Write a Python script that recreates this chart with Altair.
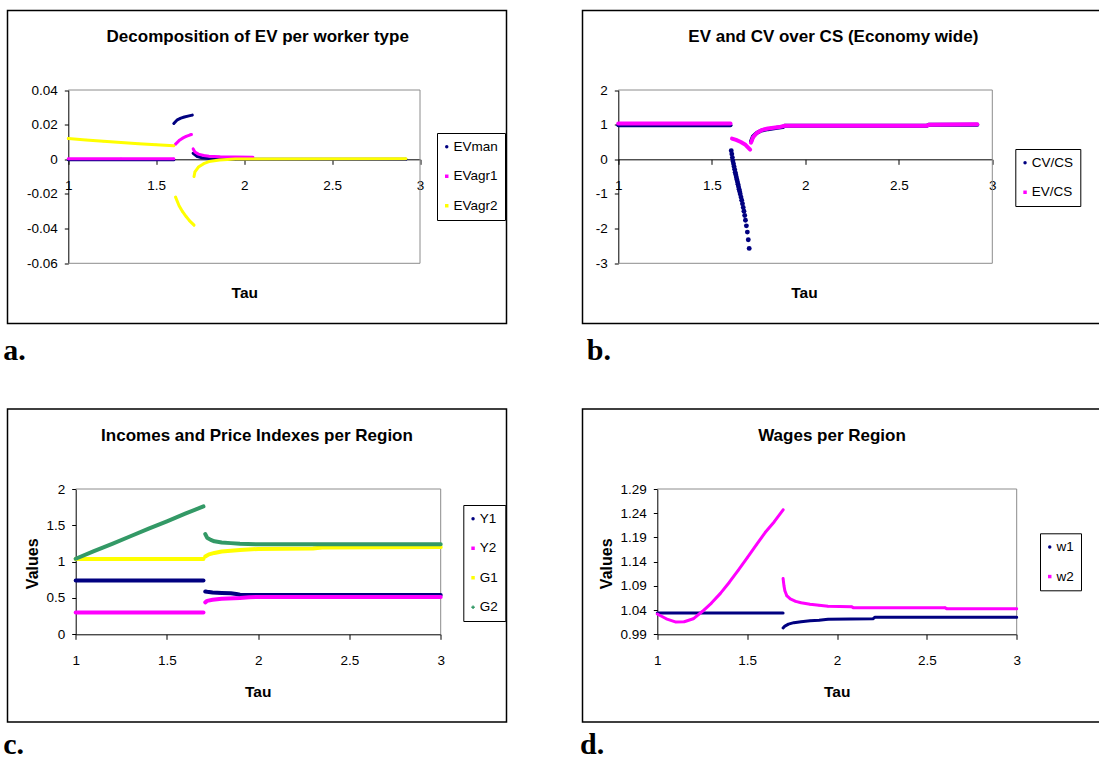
import altair as alt
import pandas as pd

FONT = "Liberation Sans, Arial, sans-serif"
SERIF = "Liberation Serif, Times New Roman, serif"
NAVY, MAGENTA, YELLOW, GREEN = "#000080", "#FF00FF", "#FFFF00", "#339966"

# ---------------- panel a: Decomposition of EV per worker type ----------------
A_SERIES = ["EVman", "EVagr1", "EVagr2"]
A_YTICKS = [0.04, 0.02, 0, -0.02, -0.04, -0.06]
EVMAN_S1_TAU = [1.00, 1.30, 1.60]
EVMAN_S1_VAL = [-0.0002, -0.0002, -0.0002]
EVMAN_S2_TAU = [1.600, 1.62, 1.64, 1.66, 1.68, 1.705]
EVMAN_S2_VAL = [0.0207, 0.0228, 0.0238, 0.0244, 0.0249, 0.0255]
EVMAN_S3_TAU = [1.71, 1.73, 1.76, 1.80, 1.85, 1.95, 2.92]
EVMAN_S3_VAL = [0.0035, 0.0018, 0.0009, 0.0004, 0.0001, 0.0, 0.0]
EVAGR1_S1_TAU = [1.00, 1.30, 1.60]
EVAGR1_S1_VAL = [0.0003, 0.0003, 0.0003]
EVAGR1_S2_TAU = [1.61, 1.63, 1.65, 1.67, 1.69, 1.70]
EVAGR1_S2_VAL = [0.0088, 0.0108, 0.0122, 0.0132, 0.0140, 0.0143]
EVAGR1_S3_TAU = [1.71, 1.72, 1.74, 1.77, 1.80, 1.86, 1.95, 2.05]
EVAGR1_S3_VAL = [0.0060, 0.0042, 0.0030, 0.0022, 0.0018, 0.0015, 0.0013, 0.0012]
EVAGR2_S1_TAU = [1.0, 1.1, 1.2, 1.3, 1.4, 1.5, 1.6]
EVAGR2_S1_VAL = [0.0120, 0.0112, 0.0104, 0.0097, 0.0090, 0.0084, 0.0078]
EVAGR2_S2_TAU = [1.61, 1.63, 1.65, 1.67, 1.69, 1.715]
EVAGR2_S2_VAL = [-0.0218, -0.0268, -0.0302, -0.0330, -0.0355, -0.0380]
EVAGR2_S3_TAU = [1.715, 1.72, 1.74, 1.77, 1.80, 1.86, 1.95, 2.92]
EVAGR2_S3_VAL = [-0.0099, -0.0073, -0.0045, -0.0025, -0.0013, -0.0004, 0.0002, 0.0003]

# ---------------- panel b: EV and CV over CS ----------------
B_SERIES = ["CV/CS", "EV/CS"]
B_YTICKS = [2, 1, 0, -1, -2, -3]
CVCS_S1_TAU = [1.0, 1.6]
CVCS_S1_VAL = [0.98, 0.98]
CVCS_DOT_TAU = [1.604, 1.607, 1.610, 1.613, 1.616, 1.619, 1.622, 1.625, 1.628, 1.631,
                1.634, 1.637, 1.640, 1.643, 1.646, 1.649, 1.652, 1.656, 1.660, 1.664,
                1.668, 1.672, 1.676, 1.680, 1.685, 1.690, 1.695, 1.700]
CVCS_DOT_VAL = [0.25, 0.15, 0.05, -0.05, -0.13, -0.21, -0.29, -0.37, -0.44, -0.51,
                -0.58, -0.65, -0.72, -0.79, -0.86, -0.93, -1.00, -1.09, -1.18, -1.28,
                -1.39, -1.50, -1.62, -1.76, -1.92, -2.10, -2.32, -2.57]
CVCS_S3_TAU = [1.71, 1.72, 1.74, 1.76, 1.80, 1.85, 1.88, 1.89, 2.30, 2.65, 2.66, 2.92]
CVCS_S3_VAL = [0.52, 0.66, 0.76, 0.82, 0.87, 0.91, 0.93, 0.97, 0.97, 0.97, 1.00, 1.00]
EVCS_S1_TAU = [1.0, 1.6]
EVCS_S1_VAL = [1.03, 1.03]
EVCS_S2_TAU = [1.608, 1.63, 1.655, 1.68, 1.705]
EVCS_S2_VAL = [0.60, 0.56, 0.50, 0.42, 0.28]
EVCS_S3_TAU = [1.71, 1.72, 1.74, 1.77, 1.80, 1.86, 1.89, 2.65, 2.66, 2.92]
EVCS_S3_VAL = [0.48, 0.63, 0.76, 0.85, 0.89, 0.93, 0.97, 0.97, 1.00, 1.01]

# ---------------- panel c: Incomes and Price Indexes ----------------
C_SERIES = ["Y1", "Y2", "G1", "G2"]
C_YTICKS = [0, 0.5, 1, 1.5, 2]
Y1_S1_TAU = [1.0, 1.7]
Y1_S1_VAL = [0.74, 0.74]
Y1_S2_TAU = [1.71, 1.72, 1.75, 1.80, 1.85, 1.88, 1.90, 1.95, 3.0]
Y1_S2_VAL = [0.59, 0.585, 0.575, 0.57, 0.565, 0.555, 0.545, 0.54, 0.54]
Y2_S1_TAU = [1.0, 1.7]
Y2_S1_VAL = [0.30, 0.30]
Y2_S2_TAU = [1.71, 1.72, 1.75, 1.80, 1.90, 1.95, 2.0, 3.0]
Y2_S2_VAL = [0.44, 0.46, 0.475, 0.49, 0.50, 0.51, 0.515, 0.515]
G1_S1_TAU = [1.0, 1.7]
G1_S1_VAL = [1.035, 1.035]
G1_S2_TAU = [1.71, 1.73, 1.76, 1.80, 1.85, 1.90, 2.0, 2.3, 2.35, 3.0]
G1_S2_VAL = [1.07, 1.10, 1.12, 1.14, 1.15, 1.16, 1.175, 1.18, 1.195, 1.20]
G2_S1_TAU = [1.0, 1.1, 1.2, 1.3, 1.4, 1.5, 1.6, 1.7]
G2_S1_VAL = [1.04, 1.145, 1.245, 1.35, 1.455, 1.555, 1.66, 1.76]
G2_S2_TAU = [1.71, 1.72, 1.74, 1.76, 1.80, 1.85, 1.90, 2.0, 3.0]
G2_S2_VAL = [1.38, 1.33, 1.30, 1.28, 1.265, 1.255, 1.245, 1.24, 1.24]

# ---------------- panel d: Wages per Region ----------------
D_SERIES = ["w1", "w2"]
D_YTICKS = [0.99, 1.04, 1.09, 1.14, 1.19, 1.24, 1.29]
W1_S1_TAU = [1.0, 1.7]
W1_S1_VAL = [1.034, 1.034]
W1_S2_TAU = [1.70, 1.71, 1.73, 1.76, 1.80, 1.85, 1.90, 1.95, 2.20, 2.21, 3.0]
W1_S2_VAL = [1.003, 1.007, 1.011, 1.014, 1.016, 1.018, 1.019, 1.021, 1.022, 1.025, 1.025]
W2_S1_TAU = [1.0, 1.05, 1.10, 1.15, 1.20, 1.25, 1.30, 1.35, 1.40, 1.45, 1.50, 1.55, 1.60, 1.65, 1.70]
W2_S1_VAL = [1.032, 1.022, 1.0155, 1.016, 1.022, 1.037, 1.054, 1.074, 1.097, 1.122, 1.148, 1.174, 1.200, 1.222, 1.247]
W2_S2_TAU = [1.70, 1.705, 1.71, 1.72, 1.74, 1.77, 1.80, 1.85, 1.90, 1.95, 2.08, 2.09, 2.60, 2.61, 3.0]
W2_S2_VAL = [1.105, 1.090, 1.080, 1.070, 1.063, 1.058, 1.055, 1.052, 1.050, 1.048, 1.047, 1.045, 1.045, 1.043, 1.043]

X_TICKS = [1, 1.5, 2, 2.5, 3]


def build_df(segments):
    rows = []
    for name, sid, taus, vals in segments:
        for t, v in zip(taus, vals):
            rows.append({"series": name, "seg": sid, "tau": t, "val": v})
    return pd.DataFrame(rows)


def panel(names, colors, shapes, segments, dots, W, H, xr, ydom, yr, yticks, yfmt,
          title, title_pos, tau_pos, values_pos, legend_pos, label, label_pos, sw,
          bottom_border, legend_cut):
    df = build_df(segments)
    xs = alt.Scale(domain=[1, 3], range=xr, nice=False, zero=False)
    ys = alt.Scale(domain=ydom, range=yr, nice=False, zero=False)
    yval_axis = 0 if ydom[0] < 0 else ydom[0]
    y_axis_px = yr[0] + (yval_axis - ydom[0]) / (ydom[1] - ydom[0]) * (yr[1] - yr[0])

    xaxis = alt.Axis(values=X_TICKS, format="~g", offset=y_axis_px - H, grid=False,
                     domainColor="black", tickColor="black", tickSize=5,
                     labelPadding=14.5, labelFont=FONT, labelFontSize=13.5, labelColor="black",
                     labelFlush=False, labelOverlap=False, labelBound=False,
                     title="Tau", titleFont=FONT, titleFontSize=15.5, titleFontWeight="bold",
                     titleColor="black", titleX=tau_pos[0], titleY=tau_pos[1] - y_axis_px,
                     titleAlign="center", titleBaseline="middle")
    if values_pos is not None:
        ykw = dict(title="Values", titleFont=FONT, titleFontSize=16, titleFontWeight="bold",
                   titleColor="black", titleX=values_pos[0] - xr[0], titleY=values_pos[1],
                   titleAlign="center", titleBaseline="middle", titleAngle=270)
    else:
        ykw = dict(title=None)
    yaxis = alt.Axis(values=yticks, format=yfmt, offset=-xr[0], grid=False,
                     domainColor="black", tickColor="black", tickSize=4,
                     labelPadding=7, labelFont=FONT, labelFontSize=13.5, labelColor="black",
                     labelFlush=False, labelOverlap=False, labelBound=False,
                     labelExpr="replace(datum.label, '\u2212', '-')", **ykw)

    X = alt.X("tau:Q", scale=xs, axis=xaxis)
    Y = alt.Y("val:Q", scale=ys, axis=yaxis)
    color = alt.Color("series:N", scale=alt.Scale(domain=names, range=colors), legend=None)
    legkw = {}
    if legend_cut:
        # the legend box runs past the right edge of the page in the reference
        legkw["labelExpr"] = "datum.label + '" + "\u00a0" * 24 + "'"
    leg = alt.Legend(orient="none", legendX=legend_pos[0], legendY=legend_pos[1], title=None,
                     strokeColor="black", fillColor="white", padding=7, rowPadding=14.5,
                     labelFont=FONT, labelFontSize=13.5, labelColor="black",
                     symbolOffset=-4, labelOffset=0, labelLimit=400,
                     symbolSize=12, symbolStrokeWidth=0, cornerRadius=0, **legkw)

    layers = []
    layers.append(alt.Chart(df).mark_point(filled=True, size=4, opacity=1).encode(
        x=X, y=Y,
        color=alt.Color("series:N", scale=alt.Scale(domain=names, range=colors), legend=leg),
        shape=alt.Shape("series:N", scale=alt.Scale(domain=names, range=shapes), legend=leg)))
    brows = [{"x": 1, "x2": 3, "y": ydom[1], "y2": ydom[1]},
             {"x": 3, "x2": 3, "y": ydom[0], "y2": ydom[1]}]
    if bottom_border:
        brows.append({"x": 1, "x2": 3, "y": ydom[0], "y2": ydom[0]})
    layers.append(alt.Chart(pd.DataFrame(brows)).mark_rule(color="#8c8c8c", strokeWidth=1).encode(
        x=alt.X("x:Q", scale=xs, axis=xaxis), x2="x2:Q",
        y=alt.Y("y:Q", scale=ys, axis=yaxis), y2="y2:Q"))
    for name in names:
        sub = df[df["series"] == name]
        layers.append(alt.Chart(sub).mark_line(strokeWidth=sw, strokeCap="round",
                                               strokeJoin="round").encode(
            x=X, y=Y, color=color, detail="seg:N"))
    if dots is not None:
        layers.append(alt.Chart(build_df(dots)).mark_circle(size=24, opacity=1).encode(
            x=X, y=Y, color=color))
    layers.append(alt.Chart(pd.DataFrame({"t": [title]})).mark_text(
        font=FONT, fontSize=17, fontWeight="bold", color="black", align="center",
        baseline="middle").encode(x=alt.value(title_pos[0]), y=alt.value(title_pos[1]),
                                  text="t:N"))
    layers.append(alt.Chart(pd.DataFrame({"t": [label]})).mark_text(
        font=SERIF, fontSize=30, fontWeight="bold", color="black", align="left",
        baseline="alphabetic").encode(x=alt.value(label_pos[0]), y=alt.value(label_pos[1]),
                                      text="t:N"))
    return alt.layer(*layers).properties(width=W, height=H)


pa = panel(A_SERIES, [NAVY, MAGENTA, YELLOW], ["circle", "square", "square"],
           [("EVman", 1, EVMAN_S1_TAU, EVMAN_S1_VAL), ("EVman", 2, EVMAN_S2_TAU, EVMAN_S2_VAL),
            ("EVman", 3, EVMAN_S3_TAU, EVMAN_S3_VAL),
            ("EVagr1", 1, EVAGR1_S1_TAU, EVAGR1_S1_VAL), ("EVagr1", 2, EVAGR1_S2_TAU, EVAGR1_S2_VAL),
            ("EVagr1", 3, EVAGR1_S3_TAU, EVAGR1_S3_VAL),
            ("EVagr2", 1, EVAGR2_S1_TAU, EVAGR2_S1_VAL), ("EVagr2", 2, EVAGR2_S2_TAU, EVAGR2_S2_VAL),
            ("EVagr2", 3, EVAGR2_S3_TAU, EVAGR2_S3_VAL)],
           None, 499, 313, [60.8, 412.5], [-0.06, 0.04], [252.8, 79.5], A_YTICKS, "~g",
           "Decomposition of EV per worker type", (250.2, 26.5), (236.8, 281.5), None,
           (429.5, 122.5), "a.", (-4.2, 349.5), 3, True, False)

pb = panel(B_SERIES, [NAVY, MAGENTA], ["circle", "square"],
           [("CV/CS", 1, CVCS_S1_TAU, CVCS_S1_VAL), ("CV/CS", 3, CVCS_S3_TAU, CVCS_S3_VAL),
            ("EV/CS", 1, EVCS_S1_TAU, EVCS_S1_VAL), ("EV/CS", 2, EVCS_S2_TAU, EVCS_S2_VAL),
            ("EV/CS", 3, EVCS_S3_TAU, EVCS_S3_VAL)],
           [("CV/CS", 2, CVCS_DOT_TAU, CVCS_DOT_VAL)],
           540, 313, [35.8, 409.8], [-3, 2], [252.8, 79.5], B_YTICKS, "~g",
           "EV and CV over CS (Economy wide)", (250.8, 26.5), (221.5, 281.5), None,
           (432.8, 138.5), "b.", (4.2, 349.5), 4, True, True)

pc = panel(C_SERIES, [NAVY, MAGENTA, YELLOW, GREEN], ["circle", "square", "square", "cross"],
           [("Y1", 1, Y1_S1_TAU, Y1_S1_VAL), ("Y1", 2, Y1_S2_TAU, Y1_S2_VAL),
            ("Y2", 1, Y2_S1_TAU, Y2_S1_VAL), ("Y2", 2, Y2_S2_TAU, Y2_S2_VAL),
            ("G1", 1, G1_S1_TAU, G1_S1_VAL), ("G1", 2, G1_S2_TAU, G1_S2_VAL),
            ("G2", 1, G2_S1_TAU, G2_S1_VAL), ("G2", 2, G2_S2_TAU, G2_S2_VAL)],
           None, 499, 313, [68.2, 433.2], [0, 2], [225.3, 80], C_YTICKS, "~g",
           "Incomes and Price Indexes per Region", (249.5, 27), (250.2, 282.7), (24.8, 154.3),
           (455.8, 96), "c.", (-4.2, 344.5), 4, False, False)

pd_ = panel(D_SERIES, [NAVY, MAGENTA], ["circle", "square"],
            [("w1", 1, W1_S1_TAU, W1_S1_VAL), ("w1", 2, W1_S2_TAU, W1_S2_VAL),
             ("w2", 1, W2_S1_TAU, W2_S1_VAL), ("w2", 2, W2_S2_TAU, W2_S2_VAL)],
            None, 540, 313, [74.8, 434.2], [0.99, 1.29], [225.3, 80], D_YTICKS, ".2f",
            "Wages per Region", (249.5, 27), (254.2, 282.7), (24.2, 154.3),
            (457.5, 124.3), "d.", (-2.5, 344.5), 3, False, True)

chart = alt.concat(pa, pb, pc, pd_, columns=2, spacing={"row": 85.5, "column": 76},
                   bounds="flush").resolve_scale(
    color="independent", shape="independent").properties(
    autosize=alt.AutoSizeParams(type="none"),
    padding={"left": 7.5, "top": 10.5, "right": 1091.5, "bottom": 750.5}
).configure_view(stroke="black", strokeWidth=1.5)

chart.save("out.html", embed_options={"renderer": "svg", "actions": False})
